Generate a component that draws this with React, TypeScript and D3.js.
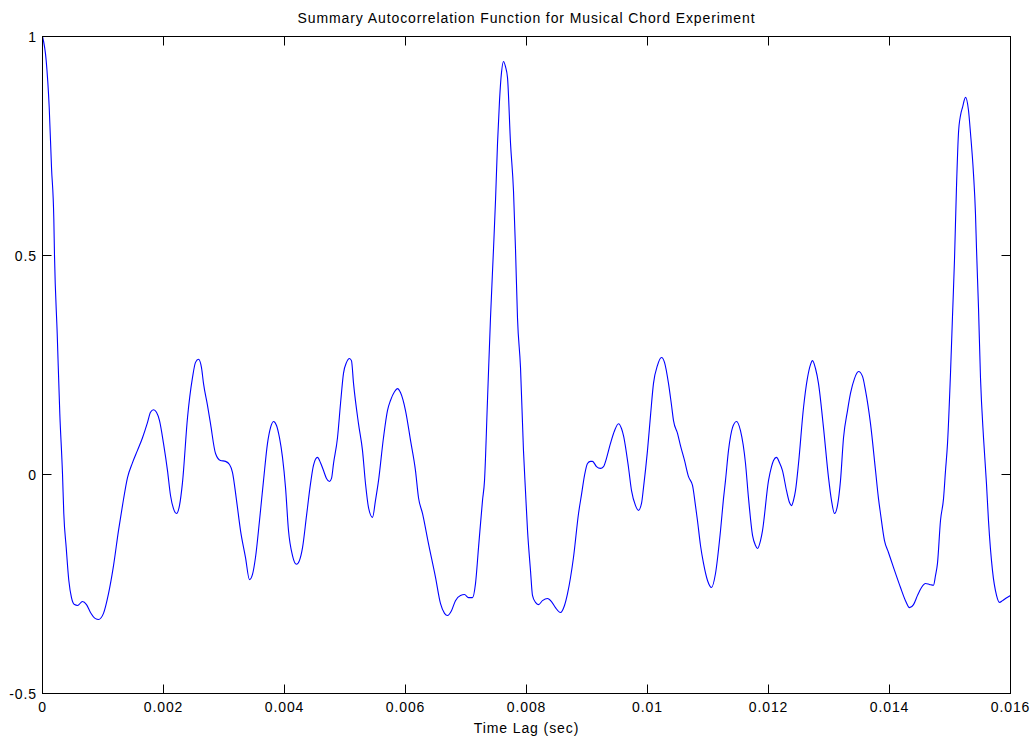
import React from "react";
import * as d3 from "d3";

// Lag in milliseconds (axis labelled in seconds)
const lagMs: number[] = [
  0, 0.061, 0.111, 0.149, 0.187, 0.198, 0.243, 0.286, 0.331, 0.352, 0.392, 0.435, 0.479, 0.529, 0.579, 0.661, 0.727, 0.793, 0.876, 0.926,
  1.008, 1.091, 1.174, 1.256, 1.322, 1.405, 1.488, 1.57, 1.653, 1.736, 1.785, 1.835, 1.884, 1.934, 2.0, 2.066, 2.116, 2.165, 2.215, 2.264,
  2.314, 2.397, 2.479, 2.529, 2.579, 2.628, 2.661, 2.727, 2.777, 2.86, 2.942, 3.025, 3.091, 3.14, 3.207, 3.273, 3.355, 3.421, 3.471, 3.521,
  3.587, 3.653, 3.719, 3.769, 3.818, 3.868, 3.917, 3.967, 4.017, 4.066, 4.132, 4.198, 4.248, 4.298, 4.364, 4.43, 4.479, 4.545, 4.595, 4.645,
  4.694, 4.744, 4.777, 4.81, 4.876, 4.926, 4.975, 5.025, 5.074, 5.107, 5.141, 5.223, 5.289, 5.339, 5.388, 5.455, 5.504, 5.554, 5.636, 5.702,
  5.752, 5.818, 5.868, 5.917, 6.0, 6.083, 6.165, 6.215, 6.281, 6.38, 6.496, 6.579, 6.645, 6.694, 6.76, 6.826, 6.909, 6.975, 7.041, 7.107,
  7.157, 7.207, 7.273, 7.306, 7.355, 7.405, 7.455, 7.488, 7.521, 7.554, 7.587, 7.62, 7.653, 7.686, 7.736, 7.785, 7.818, 7.851, 7.901, 7.95,
  7.983, 8.017, 8.066, 8.099, 8.149, 8.198, 8.264, 8.347, 8.413, 8.479, 8.562, 8.628, 8.678, 8.777, 8.86, 8.909, 8.959, 9.008, 9.058, 9.091,
  9.157, 9.223, 9.273, 9.322, 9.388, 9.455, 9.521, 9.57, 9.603, 9.686, 9.736, 9.802, 9.851, 9.901, 9.934, 10.0, 10.05, 10.099, 10.165, 10.231,
  10.281, 10.347, 10.397, 10.43, 10.496, 10.545, 10.612, 10.678, 10.744, 10.793, 10.826, 10.876, 10.926, 10.992, 11.058, 11.124, 11.207, 11.256, 11.289, 11.339,
  11.405, 11.471, 11.537, 11.62, 11.669, 11.736, 11.785, 11.818, 11.868, 11.901, 12.0, 12.05, 12.083, 12.132, 12.182, 12.231, 12.298, 12.347, 12.38, 12.413,
  12.446, 12.496, 12.579, 12.645, 12.694, 12.727, 12.777, 12.826, 12.909, 12.992, 13.041, 13.091, 13.14, 13.19, 13.24, 13.306, 13.355, 13.421, 13.488, 13.554,
  13.603, 13.686, 13.769, 13.818, 13.851, 13.917, 13.983, 14.066, 14.182, 14.264, 14.331, 14.397, 14.463, 14.529, 14.595, 14.661, 14.727, 14.76, 14.793, 14.843,
  14.893, 14.926, 14.959, 15.008, 15.041, 15.074, 15.107, 15.14, 15.174, 15.207, 15.256, 15.306, 15.339, 15.388, 15.421, 15.438, 15.471, 15.504, 15.554, 15.603,
  15.636, 15.702, 15.769, 15.818, 15.868, 15.917, 16.0,
];

const acf: number[] = [
  1.0, 0.945, 0.838, 0.701, 0.584, 0.502, 0.322, 0.139, 0.0, -0.089, -0.167, -0.242, -0.281, -0.297, -0.299, -0.29, -0.297, -0.315, -0.329, -0.331,
  -0.317, -0.272, -0.208, -0.128, -0.071, -0.007, 0.027, 0.055, 0.084, 0.119, 0.142, 0.148, 0.142, 0.123, 0.071, 0.009, -0.048, -0.078, -0.089, -0.071,
  -0.018, 0.13, 0.221, 0.256, 0.263, 0.244, 0.208, 0.158, 0.116, 0.048, 0.032, 0.03, 0.023, 0.005, -0.059, -0.128, -0.189, -0.24, -0.228, -0.189,
  -0.105, -0.014, 0.071, 0.107, 0.121, 0.112, 0.084, 0.039, -0.03, -0.128, -0.185, -0.205, -0.196, -0.167, -0.094, -0.021, 0.021, 0.039, 0.027, 0.009,
  -0.009, -0.016, -0.009, 0.025, 0.084, 0.162, 0.231, 0.256, 0.265, 0.26, 0.208, 0.116, 0.055, -0.021, -0.075, -0.098, -0.059, -0.014, 0.084, 0.146,
  0.169, 0.189, 0.196, 0.187, 0.146, 0.078, 0.009, -0.053, -0.089, -0.158, -0.235, -0.295, -0.317, -0.322, -0.311, -0.288, -0.276, -0.274, -0.281, -0.281,
  -0.249, -0.167, -0.059, -0.014, 0.169, 0.358, 0.516, 0.626, 0.756, 0.854, 0.918, 0.943, 0.931, 0.906, 0.756, 0.648, 0.516, 0.358, 0.244, 0.055,
  -0.037, -0.128, -0.219, -0.276, -0.292, -0.297, -0.288, -0.283, -0.29, -0.304, -0.315, -0.299, -0.272, -0.189, -0.089, -0.046, -0.002, 0.025, 0.03, 0.03,
  0.018, 0.014, 0.018, 0.037, 0.071, 0.1, 0.116, 0.105, 0.089, 0.016, -0.037, -0.071, -0.082, -0.066, -0.03, 0.055, 0.135, 0.208, 0.249, 0.267,
  0.256, 0.208, 0.158, 0.123, 0.094, 0.066, 0.032, -0.005, -0.025, -0.071, -0.105, -0.162, -0.203, -0.242, -0.258, -0.226, -0.128, -0.055, -0.014, 0.055,
  0.107, 0.121, 0.1, 0.025, -0.053, -0.139, -0.162, -0.169, -0.151, -0.128, -0.014, 0.018, 0.032, 0.039, 0.027, 0.009, -0.037, -0.064, -0.071, -0.059,
  -0.037, 0.025, 0.153, 0.221, 0.251, 0.26, 0.242, 0.208, 0.107, -0.007, -0.059, -0.089, -0.071, -0.014, 0.084, 0.146, 0.185, 0.219, 0.235, 0.224,
  0.192, 0.116, 0.009, -0.055, -0.089, -0.151, -0.178, -0.212, -0.258, -0.288, -0.304, -0.297, -0.276, -0.258, -0.249, -0.251, -0.253, -0.231, -0.203, -0.105,
  -0.055, 0.009, 0.071, 0.23, 0.36, 0.489, 0.655, 0.779, 0.82, 0.838, 0.861, 0.831, 0.779, 0.687, 0.596, 0.516, 0.381, 0.221, 0.084, -0.021,
  -0.105, -0.219, -0.276, -0.292, -0.288, -0.283, -0.276,
];

const xTickValues: number[] = [0, 2, 4, 6, 8, 10, 12, 14, 16];
const xTickLabels: string[] = ["0", "0.002", "0.004", "0.006", "0.008", "0.01", "0.012", "0.014", "0.016"];
const yTickValues: number[] = [1, 0.5, 0, -0.5];
const yTickLabels: string[] = ["1", "0.5", "0", "-0.5"];

const titleText = "Summary Autocorrelation Function for Musical Chord Experiment";
const xLabelText = "Time Lag (sec)";

const W = 1033;
const H = 739;
const FONT = "'Liberation Sans', Arial, Helvetica, sans-serif";

export default function App() {
  const x = d3.scaleLinear().domain([0, 16]).range([42.5, 1010.5]);
  const y = d3.scaleLinear().domain([-0.5, 1]).range([693.5, 36.5]);
  const pts: [number, number][] = lagMs.map((t, i) => [t, acf[i]]);
  const line = d3
    .line<[number, number]>()
    .x((d) => x(d[0]))
    .y((d) => y(d[1]))
    .curve(d3.curveMonotoneX);
  const tickLen = 9;
  const x0 = x(0), x1 = x(16), yTop = y(1), yBot = y(-0.5);
  const textStyle = { fontFamily: FONT, fontSize: 14, letterSpacing: 0.9 } as React.CSSProperties;

  return (
    <svg
      width={W}
      height={H}
      style={{ position: "absolute", left: 0, top: 0, background: "#fff" }}
    >
      <rect x={0} y={0} width={W} height={H} fill="#fff" />
      <path d={line(pts) || ""} fill="none" stroke="#0000ff" strokeWidth={1.1} />
      <rect x={x0} y={yTop} width={x1 - x0} height={yBot - yTop} fill="none" stroke="#000" strokeWidth={1} />
      {xTickValues.map((v) => (
        <g key={"xt" + v}>
          <line x1={x(v)} x2={x(v)} y1={yBot} y2={yBot - tickLen} stroke="#000" />
          <line x1={x(v)} x2={x(v)} y1={yTop} y2={yTop + tickLen} stroke="#000" />
        </g>
      ))}
      {yTickValues.map((v) => (
        <g key={"yt" + v}>
          <line x1={x0} x2={x0 + tickLen} y1={y(v)} y2={y(v)} stroke="#000" />
          <line x1={x1} x2={x1 - tickLen} y1={y(v)} y2={y(v)} stroke="#000" />
        </g>
      ))}
      {xTickValues.map((v, i) => (
        <text key={"xl" + v} x={x(v)} y={712} textAnchor="middle" style={textStyle} fill="#000">
          {xTickLabels[i]}
        </text>
      ))}
      {yTickValues.map((v, i) => (
        <text key={"yl" + v} x={37} y={y(v) + 5} textAnchor="end" style={textStyle} fill="#000">
          {yTickLabels[i]}
        </text>
      ))}
      <text x={(x0 + x1) / 2} y={733} textAnchor="middle" style={textStyle} fill="#000">
        {xLabelText}
      </text>
      <text x={(x0 + x1) / 2} y={23} textAnchor="middle" style={textStyle} fill="#000">
        {titleText}
      </text>
    </svg>
  );
}
